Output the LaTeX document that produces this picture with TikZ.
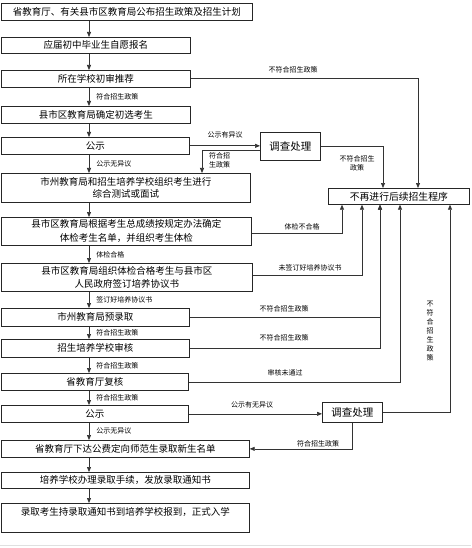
\documentclass[tikz,border=0pt]{standalone}
\usepackage{fontspec}
\newfontfamily\cjk{Noto Sans CJK SC}
\usetikzlibrary{arrows.meta,calc}
\begin{document}
\begin{tikzpicture}[x=1pt,y=-1pt,
  box/.style={draw=black!85, line width=0.7pt, inner sep=0pt, anchor=north west, align=center, font=\cjk\fontsize{9.5}{12.5}\selectfont},
  ibox/.style={box, font=\cjk\fontsize{10.5}{12}\selectfont},
  arr/.style={draw=black!80, line width=0.7pt, -{Triangle[length=5pt,width=4pt]}},
  ln/.style={draw=black!80, line width=0.7pt},
  lbl/.style={font=\cjk\fontsize{7}{9}\selectfont, inner sep=0pt, align=center},
]
\useasboundingbox (0,0) rectangle (471,548);
\fill[white] (0,0) rectangle (471,548);
\draw[black!12, line width=1pt] (0,545.5) -- (471,545.5);

% main column
\node[box, minimum width=251pt, minimum height=17pt] (b1) at (1,3) {省教育厅、有关县市区教育局公布招生政策及招生计划};
\node[box, minimum width=189pt, minimum height=16pt] (b2) at (1,37) {应届初中毕业生自愿报名};
\node[box, minimum width=189pt, minimum height=17pt] (b3) at (1,70) {所在学校初审推荐};
\node[box, minimum width=189pt, minimum height=17pt] (b4) at (1,106) {县市区教育局确定初选考生};
\node[box, minimum width=188pt, minimum height=17pt] (b5) at (1,137) {公示};
\node[box, minimum width=249pt, minimum height=29pt] (b6) at (1,173) {市州教育局和招生培养学校组织考生进行\\综合测试或面试};
\node[box, minimum width=250pt, minimum height=28pt, font=\cjk\fontsize{9.5}{14}\selectfont] (b7) at (1,217) {县市区教育局根据考生总成绩按规定办法确定\\体检考生名单，并组织考生体检};
\node[box, minimum width=251pt, minimum height=28pt] (b8) at (1,263) {县市区教育局组织体检合格考生与县市区\\人民政府签订培养协议书};
\node[box, minimum width=188pt, minimum height=18pt] (b9) at (1,308) {市州教育局预录取};
\node[box, minimum width=188pt, minimum height=18pt] (b10) at (1,339) {招生培养学校审核};
\node[box, minimum width=187pt, minimum height=17pt] (b11) at (1,373) {省教育厅复核};
\node[box, minimum width=187pt, minimum height=17pt] (b12) at (1,405) {公示};
\node[box, minimum width=248pt, minimum height=17pt] (b13) at (1,440) {省教育厅下达公费定向师范生录取新生名单};
\node[box, minimum width=248pt, minimum height=16pt] (b14) at (1,472) {培养学校办理录取手续，发放录取通知书};
\node[box, minimum width=248pt, minimum height=29pt] (b15) at (1,503) {录取考生持录取通知书到培养学校报到，正式入学\\\mbox{}};

% right side
\node[ibox, minimum width=60pt, minimum height=28pt] (inv1) at (260,132) {调查处理};
\node[box, minimum width=141pt, minimum height=16pt, font=\cjk\fontsize{9.8}{12}\selectfont] (stop) at (328,188) {不再进行后续招生程序};
\node[ibox, minimum width=60pt, minimum height=20pt] (inv2) at (322,402) {调查处理};

% main arrows
\draw[arr] ([xshift=88pt]b1.south west) -- ([xshift=88pt]b2.north west);
\draw[arr] ([xshift=88pt]b2.south west) -- ([xshift=88pt]b3.north west);
\draw[arr] ([xshift=88pt]b3.south west) -- node[lbl, right=7pt] {符合招生政策} ([xshift=88pt]b4.north west);
\draw[arr] ([xshift=88pt]b4.south west) -- ([xshift=88pt]b5.north west);
\draw[arr] ([xshift=88pt]b5.south west) -- node[lbl, right=7pt] {公示无异议} ([xshift=88pt]b6.north west);
\draw[arr] ([xshift=88pt]b6.south west) -- ([xshift=88pt]b7.north west);
\draw[arr] ([xshift=88pt]b7.south west) -- node[lbl, right=7pt] {体检合格} ([xshift=88pt]b8.north west);
\draw[arr] ([xshift=88pt]b8.south west) -- node[lbl, right=7pt] {签订好培养协议书} ([xshift=88pt]b9.north west);
\draw[arr] ([xshift=88pt]b9.south west) -- node[lbl, right=7pt] {符合招生政策} ([xshift=88pt]b10.north west);
\draw[arr] ([xshift=88pt]b10.south west) -- node[lbl, right=7pt] {符合招生政策} ([xshift=88pt]b11.north west);
\draw[arr] ([xshift=88pt]b11.south west) -- node[lbl, right=7pt] {符合招生政策} ([xshift=88pt]b12.north west);
\draw[arr] ([xshift=88pt]b12.south west) -- node[lbl, right=7pt] {公示无异议} ([xshift=88pt]b13.north west);
\draw[arr] ([xshift=88pt]b13.south west) -- ([xshift=88pt]b14.north west);
\draw[arr] ([xshift=88pt]b14.south west) -- ([xshift=88pt]b15.north west);

% side connectors
\draw[arr] (b3.east) -| ([xshift=90pt]stop.north west);
\draw[arr] (b5.east) -- (b5.east -| inv1.west);
\draw[arr] ([yshift=-4pt]inv1.west) -| ([xshift=201pt]b6.north west);
\draw[arr] (inv1.east) -| ([xshift=55pt]stop.north west);
\draw[arr] ([yshift=-2pt]b7.east) -| ([xshift=14pt]stop.south west);
\draw[arr] ([yshift=2pt]b8.east) -| ([xshift=34pt]stop.south west);
\draw[arr] (b9.east) -| ([xshift=52pt]stop.south west);
\draw[arr] (b10.east) -| ([xshift=52pt]stop.south west);
\draw[arr] (b11.east) -| ([xshift=72pt]stop.south west);
\draw[arr] (inv2.east) -| ([xshift=122pt]stop.south west);
\draw[arr] (b12.east) -- (b12.east -| inv2.west);
\draw[arr] (inv2.south) |- (b13.east);

% side labels
\node[lbl] (l1) at (293,70) {不符合招生政策};
\node[lbl] (l2) at (225,135) {公示有异议};
\node[lbl, anchor=west] (l3) at (209,160) {符合招\\生政策};
\node[lbl] (l4) at (357,163) {不符合招生\\政策};
\node[lbl] (l5) at (302,227) {体检不合格};
\node[lbl] (l6) at (310,268) {未签订好培养协议书};
\node[lbl] (l7) at (284,309) {不符合招生政策};
\node[lbl] (l8) at (284,338) {不符合招生政策};
\node[lbl] (l9) at (285,373) {审核未通过};
\node[lbl] (l10) at (430,331) {不\\符\\合\\招\\生\\政\\策};
\node[lbl] (l11) at (252,405) {公示有无异议};
\node[lbl] (l12) at (318,444) {符合招生政策};
\end{tikzpicture}
\end{document}
